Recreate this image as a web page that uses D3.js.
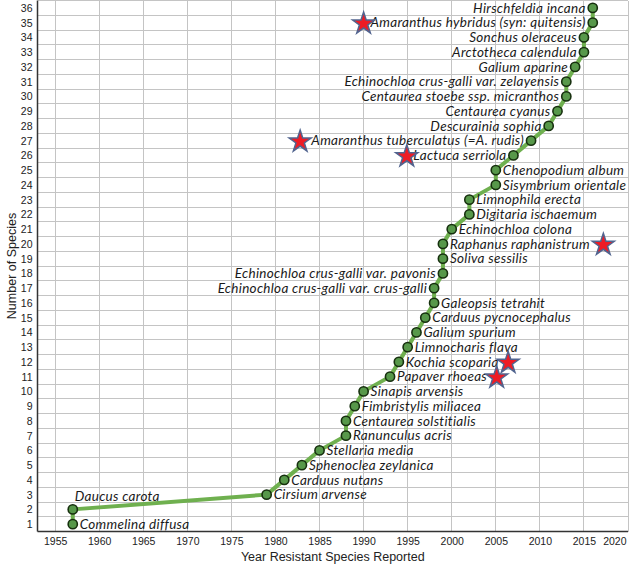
<!DOCTYPE html>
<html>
<head>
<meta charset="utf-8">
<script src="https://cdn.jsdelivr.net/npm/d3@7"></script>
<style>
  html, body { margin: 0; padding: 0; background: #fff; }
  svg { display: block; }
</style>
</head>
<body>
<svg id="chart" width="630" height="568"></svg>
<script>
// ---------------- DATA ----------------
const species = [
  "Commelina diffusa", "Daucus carota", "Cirsium arvense", "Carduus nutans",
  "Sphenoclea zeylanica", "Stellaria media", "Ranunculus acris", "Centaurea solstitialis",
  "Fimbristylis miliacea", "Sinapis arvensis", "Papaver rhoeas", "Kochia scoparia",
  "Limnocharis flava", "Galium spurium", "Carduus pycnocephalus", "Galeopsis tetrahit",
  "Echinochloa crus-galli var. crus-galli", "Echinochloa crus-galli var. pavonis",
  "Soliva sessilis", "Raphanus raphanistrum", "Echinochloa colona", "Digitaria ischaemum",
  "Limnophila erecta", "Sisymbrium orientale", "Chenopodium album", "Lactuca serriola",
  "Amaranthus tuberculatus (=A. rudis)", "Descurainia sophia", "Centaurea cyanus",
  "Centaurea stoebe ssp. micranthos", "Echinochloa crus-galli var. zelayensis",
  "Galium aparine", "Arctotheca calendula", "Sonchus oleraceus",
  "Amaranthus hybridus (syn: quitensis)", "Hirschfeldia incana"
];
const years = [
  1957, 1957, 1979, 1981, 1983, 1985, 1988, 1988, 1989, 1990,
  1993, 1994, 1995, 1996, 1997, 1998, 1998, 1999, 1999, 1999,
  2000, 2002, 2002, 2005, 2005, 2007, 2009, 2011, 2012, 2013,
  2013, 2014, 2015, 2015, 2016, 2016
];
const counts = d3.range(1, 37); // cumulative number of species
// which side of the point each label sits on
const labelSide = [
  "R","A","R","R","R","R","R","R","R","R",
  "R","R","R","R","R","R","L","L","R","R",
  "R","R","R","R","R","L","L","L","L","L",
  "L","L","L","L","L","L"
];
// star markers (year position, species count level)
const starYears  = [1990, 1982.8, 1994.9, 2017.2, 2006.4, 2005.1];
const starLevels = [35, 27, 26, 20, 12, 11];

const xTicks = d3.range(1955, 2021, 5);
const yTicks = d3.range(1, 37);
const xTitle = "Year Resistant Species Reported";
const yTitle = "Number of Species";

// ---------------- CHART ----------------
const svg = d3.select("#chart");
const x = d3.scaleLinear().domain([1953, 2020]).range([37.5, 628]);
const y = d3.scaleLinear().domain([0.5, 36.5]).range([531.5, 0.5]);

const grid = svg.append("g").attr("stroke", "#c4c4c4").attr("stroke-width", 1).attr("shape-rendering", "crispEdges");
grid.selectAll("line.v").data(xTicks).join("line").attr("class", "v")
  .attr("x1", d => x(d)).attr("x2", d => x(d))
  .attr("y1", y(36.5)).attr("y2", y(0.5));
grid.selectAll("line.h").data(d3.range(1.5, 37, 1)).join("line").attr("class", "h")
  .attr("x1", x(1953)).attr("x2", x(2020))
  .attr("y1", d => y(d)).attr("y2", d => y(d));

// axes
const xAxis = svg.append("g").attr("transform", `translate(0,${y(0.5)})`)
  .call(d3.axisBottom(x).tickValues(xTicks).tickFormat(d3.format("d")).tickSize(0).tickPadding(6));
xAxis.select(".domain").remove();
xAxis.selectAll("text").attr("font-family", "Liberation Sans, Arial, sans-serif").attr("font-size", "10.5px").attr("fill", "#222");
xAxis.selectAll(".tick").filter(d => d === 2020).select("text").attr("text-anchor", "end").attr("dx", "-2px");

const yAxis = svg.append("g").attr("transform", `translate(${x(1953)},0)`)
  .call(d3.axisLeft(y).tickValues(yTicks).tickFormat(d3.format("d")).tickSize(0).tickPadding(5));
yAxis.select(".domain").remove();
yAxis.selectAll("text").attr("font-family", "Liberation Sans, Arial, sans-serif").attr("font-size", "10.5px").attr("fill", "#222");

svg.append("line").attr("x1", x(1953)).attr("x2", x(2020)).attr("y1", y(0.5)).attr("y2", y(0.5))
  .attr("stroke", "#333").attr("stroke-width", 1.5);
svg.append("line").attr("x1", x(1953)).attr("x2", x(1953)).attr("y1", y(36.5)).attr("y2", y(0.5))
  .attr("stroke", "#333").attr("stroke-width", 1.5);

// titles
svg.append("text").attr("x", (x(1953) + x(2020)) / 2).attr("y", 561)
  .attr("text-anchor", "middle").attr("font-family", "Liberation Sans, Arial, sans-serif")
  .attr("font-size", "12.5px").attr("fill", "#222").text(xTitle);
svg.append("text").attr("transform", `translate(16,${(y(0.5) + y(36.5)) / 2}) rotate(-90)`)
  .attr("text-anchor", "middle").attr("font-family", "Liberation Sans, Arial, sans-serif")
  .attr("font-size", "12.5px").attr("fill", "#222").text(yTitle);

// data line
const pts = species.map((s, i) => ({ name: s, year: years[i], n: counts[i], side: labelSide[i] }));
svg.append("path").datum(pts)
  .attr("d", d3.line().x(d => x(d.year)).y(d => y(d.n)))
  .attr("fill", "none").attr("stroke", "#6fb04f").attr("stroke-width", 4).attr("stroke-linejoin", "round");

svg.append("g").selectAll("circle").data(pts).join("circle")
  .attr("cx", d => x(d.year)).attr("cy", d => y(d.n)).attr("r", 4.6)
  .attr("fill", "#57984a").attr("stroke", "#17300f").attr("stroke-width", 1.6);

// labels
svg.append("g").selectAll("text").data(pts).join("text")
  .attr("x", d => d.side === "L" ? x(d.year) - 7 : d.side === "A" ? x(d.year) + 2 : x(d.year) + 7)
  .attr("y", d => d.side === "A" ? y(d.n) - 13 : y(d.n))
  .attr("dy", "0.35em")
  .attr("text-anchor", d => d.side === "L" ? "end" : "start")
  .attr("font-family", "Lato, 'Open Sans', sans-serif").attr("font-style", "italic")
  .attr("font-size", "13.5px").style("letter-spacing", "0.3px").attr("fill", "#1a1a1a")
  .text(d => d.name);

// stars
const stars = starYears.map((s, i) => ({ year: s, n: starLevels[i] }));
svg.append("g").selectAll("path").data(stars).join("path")
  .attr("transform", d => `translate(${x(d.year)},${y(d.n) + 1})`)
  .attr("d", d3.symbol(d3.symbolStar, 150)())
  .attr("fill", "#ee1c25").attr("stroke", "#51648f").attr("stroke-width", 1.5);
</script>
</body>
</html>
